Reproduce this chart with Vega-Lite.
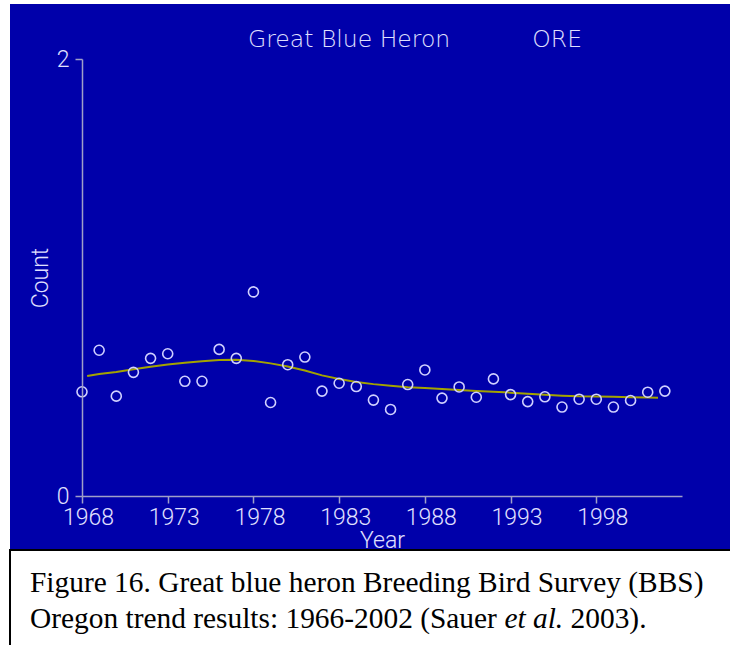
{
  "$schema": "https://vega.github.io/schema/vega-lite/v6.json",
  "width": 600,
  "height": 437,
  "autosize": {"type": "none"},
  "padding": {"left": 82, "top": 59, "right": 48, "bottom": 149},
  "background": "white",
  "datasets": {
    "one": [{"k": 1}],
    "counts": [
      {"year": 1968, "count": 0.477},
      {"year": 1969, "count": 0.667},
      {"year": 1970, "count": 0.457},
      {"year": 1971, "count": 0.566},
      {"year": 1972, "count": 0.630},
      {"year": 1973, "count": 0.651},
      {"year": 1974, "count": 0.525},
      {"year": 1975, "count": 0.525},
      {"year": 1976, "count": 0.671},
      {"year": 1977, "count": 0.630},
      {"year": 1978, "count": 0.934},
      {"year": 1979, "count": 0.428},
      {"year": 1980, "count": 0.601},
      {"year": 1981, "count": 0.636},
      {"year": 1982, "count": 0.480},
      {"year": 1983, "count": 0.516},
      {"year": 1984, "count": 0.501},
      {"year": 1985, "count": 0.439},
      {"year": 1986, "count": 0.396},
      {"year": 1987, "count": 0.510},
      {"year": 1988, "count": 0.577},
      {"year": 1989, "count": 0.448},
      {"year": 1990, "count": 0.499},
      {"year": 1991, "count": 0.452},
      {"year": 1992, "count": 0.536},
      {"year": 1993, "count": 0.464},
      {"year": 1994, "count": 0.432},
      {"year": 1995, "count": 0.454},
      {"year": 1996, "count": 0.407},
      {"year": 1997, "count": 0.443},
      {"year": 1998, "count": 0.443},
      {"year": 1999, "count": 0.407},
      {"year": 2000, "count": 0.437},
      {"year": 2001, "count": 0.475},
      {"year": 2002, "count": 0.480}
    ],
    "trend": [
      {"year": 1968.3, "value": 0.549},
      {"year": 1969, "value": 0.558},
      {"year": 1970, "value": 0.568},
      {"year": 1971, "value": 0.580},
      {"year": 1972, "value": 0.592},
      {"year": 1973, "value": 0.602},
      {"year": 1974, "value": 0.610},
      {"year": 1975, "value": 0.617},
      {"year": 1976, "value": 0.622},
      {"year": 1977, "value": 0.623},
      {"year": 1978, "value": 0.618},
      {"year": 1979, "value": 0.607},
      {"year": 1980, "value": 0.593},
      {"year": 1981, "value": 0.574},
      {"year": 1982, "value": 0.552},
      {"year": 1983, "value": 0.535},
      {"year": 1984, "value": 0.522},
      {"year": 1985, "value": 0.512},
      {"year": 1986, "value": 0.505},
      {"year": 1987, "value": 0.498},
      {"year": 1988, "value": 0.494},
      {"year": 1989, "value": 0.490},
      {"year": 1990, "value": 0.485},
      {"year": 1991, "value": 0.481},
      {"year": 1992, "value": 0.477},
      {"year": 1993, "value": 0.473},
      {"year": 1994, "value": 0.468},
      {"year": 1995, "value": 0.463},
      {"year": 1996, "value": 0.459},
      {"year": 1997, "value": 0.456},
      {"year": 1998, "value": 0.455},
      {"year": 1999, "value": 0.454},
      {"year": 2000, "value": 0.452},
      {"year": 2001, "value": 0.451},
      {"year": 2001.6, "value": 0.450}
    ]
  },
  "title": {
    "text": "Great Blue Heron\u00a0\u00a0\u00a0\u00a0\u00a0\u00a0\u00a0\u00a0\u00a0\u00a0\u00a0ORE",
    "anchor": "start",
    "frame": "group",
    "dx": 166,
    "offset": -47,
    "font": "DejaVu Sans",
    "fontWeight": 200,
    "fontSize": 23.5,
    "color": "#e0e0ff",
    "zindex": 1
  },
  "layer": [
    {
      "data": {"name": "one"},
      "mark": {"type": "rect", "fill": "#0000aa", "clip": false},
      "encoding": {
        "x": {"datum": 1963.8, "type": "quantitative", "scale": {"domain": [1968, 2003], "nice": false, "zero": false}, "title": "Year"},
        "x2": {"datum": 2010},
        "y": {"datum": -0.2426, "type": "quantitative", "scale": {"domain": [0, 2], "nice": false}, "title": "Count"},
        "y2": {"datum": 2.2517}
      }
    },
    {
      "data": {"name": "one"},
      "mark": {"type": "rect", "fill": "white", "stroke": "black", "strokeWidth": 2, "clip": false},
      "encoding": {
        "x": {"datum": 1963.8, "type": "quantitative", "scale": {"domain": [1968, 2003], "nice": false, "zero": false}, "title": "Year"},
        "x2": {"datum": 2010},
        "y": {"datum": -0.2471, "type": "quantitative", "scale": {"domain": [0, 2], "nice": false}, "title": "Count"},
        "y2": {"datum": -1.2}
      }
    },
    {
      "data": {"name": "trend"},
      "mark": {"type": "line", "color": "#a3a300", "strokeWidth": 2, "clip": false},
      "encoding": {
        "x": {"field": "year", "type": "quantitative", "scale": {"domain": [1968, 2003], "nice": false, "zero": false}, "title": "Year"},
        "y": {"field": "value", "type": "quantitative", "scale": {"domain": [0, 2], "nice": false}, "title": "Count"}
      }
    },
    {
      "data": {"name": "counts"},
      "mark": {"type": "point", "shape": "circle", "filled": false, "size": 100, "stroke": "#d0d0ff", "strokeWidth": 1.6, "opacity": 1, "clip": false},
      "encoding": {
        "x": {"field": "year", "type": "quantitative", "scale": {"domain": [1968, 2003], "nice": false, "zero": false}, "title": "Year",
              "axis": {"values": [1968, 1973, 1978, 1983, 1988, 1993, 1998], "format": "d", "zindex": 2, "labelOffset": 6}},
        "y": {"field": "count", "type": "quantitative", "scale": {"domain": [0, 2], "nice": false}, "title": "Count",
              "axis": {"values": [0, 1, 2], "format": "d", "zindex": 2}}
      }
    },
    {
      "data": {"name": "one"},
      "mark": {"type": "text", "text": "Figure 16. Great blue heron Breeding Bird Survey (BBS)", "font": "Liberation Serif", "fontSize": 29.4, "color": "black", "align": "left", "baseline": "alphabetic", "clip": false},
      "encoding": {
        "x": {"datum": 1964.967, "type": "quantitative", "scale": {"domain": [1968, 2003], "nice": false, "zero": false}, "title": "Year"},
        "y": {"datum": -0.4394, "type": "quantitative", "scale": {"domain": [0, 2], "nice": false}, "title": "Count"}
      }
    },
    {
      "data": {"name": "one"},
      "mark": {"type": "text", "text": "Oregon trend results: 1966-2002 (Sauer", "font": "Liberation Serif", "fontSize": 29.4, "color": "black", "align": "left", "baseline": "alphabetic", "clip": false},
      "encoding": {
        "x": {"datum": 1964.967, "type": "quantitative", "scale": {"domain": [1968, 2003], "nice": false, "zero": false}, "title": "Year"},
        "y": {"datum": -0.6041, "type": "quantitative", "scale": {"domain": [0, 2], "nice": false}, "title": "Count"}
      }
    },
    {
      "data": {"name": "one"},
      "mark": {"type": "text", "text": "et al.", "font": "Liberation Serif", "fontStyle": "italic", "fontSize": 29.4, "color": "black", "align": "left", "baseline": "alphabetic", "clip": false},
      "encoding": {
        "x": {"datum": 1992.64, "type": "quantitative", "scale": {"domain": [1968, 2003], "nice": false, "zero": false}, "title": "Year"},
        "y": {"datum": -0.6041, "type": "quantitative", "scale": {"domain": [0, 2], "nice": false}, "title": "Count"}
      }
    },
    {
      "data": {"name": "one"},
      "mark": {"type": "text", "text": "2003).", "font": "Liberation Serif", "fontSize": 29.4, "color": "black", "align": "left", "baseline": "alphabetic", "clip": false},
      "encoding": {
        "x": {"datum": 1996.5, "type": "quantitative", "scale": {"domain": [1968, 2003], "nice": false, "zero": false}, "title": "Year"},
        "y": {"datum": -0.6041, "type": "quantitative", "scale": {"domain": [0, 2], "nice": false}, "title": "Count"}
      }
    }
  ],
  "config": {
    "view": {"stroke": null},
    "axis": {
      "domainColor": "#a0a0c8",
      "tickColor": "#a0a0c8",
      "domainWidth": 1.5,
      "tickWidth": 1.5,
      "labelColor": "#e0e0ff",
      "titleColor": "#e0e0ff",
      "labelFont": "Roboto",
      "labelFontWeight": 300,
      "labelFontSize": 23,
      "titleFont": "Roboto",
      "titleFontWeight": 300,
      "titleFontSize": 23,
      "grid": false,
      "tickSize": 7,
      "zindex": 2,
      "labelFlush": false,
      "labelOverlap": false
    },
    "axisX": {"labelPadding": 3, "titlePadding": 0},
    "axisY": {"labelPadding": 6, "titlePadding": 4}
  }
}
